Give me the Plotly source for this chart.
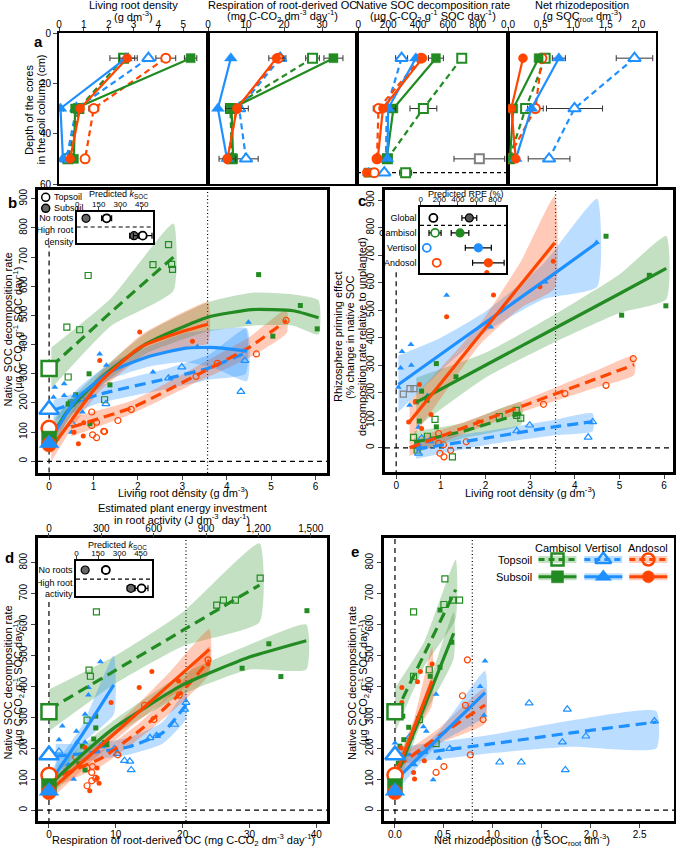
import plotly.graph_objects as go

# =============== DATA ===============
# ---- panel a : depth profiles (depth in cm) ----
depth = [10, 30, 50]
depth_noroots = [55.5, 55.5, 55.5, 55.5, 55.5, 55.5]
noroot_series = ["cam_top", "cam_sub", "ver_top", "ver_sub", "and_top", "and_sub"]

a_root_cam_top = [2.6, 0.8, 0.36]
a_root_cam_sub = [5.3, 0.65, 0.6]
a_root_ver_top = [3.6, 0.7, 0.3]
a_root_ver_sub = [2.7, 0.06, 0.16]
a_root_and_top = [4.3, 1.4, 1.05]
a_root_and_sub = [2.75, 0.85, 0.45]
a_root_err = {"cam_top": [0.55, 0, 0], "cam_sub": [0.25, 0, 0], "and_top": [0.4, 0.2, 0],
              "and_sub": [0.3, 0, 0], "ver_sub": [0, 0.12, 0]}

a_resp_cam_top = [27.5, 5.9, 6.3]
a_resp_cam_sub = [33.0, 6.2, 6.6]
a_resp_ver_top = [19.0, 8.2, 10.0]
a_resp_ver_sub = [6.0, 2.6, 5.0]
a_resp_and_top = [18.5, 7.5, 5.2]
a_resp_and_sub = [18.0, 7.6, 5.1]
a_resp_err = {"cam_top": [1.8, 0, 0], "cam_sub": [2.5, 0, 0], "ver_top": [1.5, 0, 3.2],
              "and_sub": [2.0, 3.0, 2.2]}

a_soc_cam_top = [693, 436, 195]
a_soc_cam_sub = [520, 235, 190]
a_soc_ver_top = [290, 190, 185]
a_soc_ver_sub = [385, 200, 195]
a_soc_and_top = [420, 135, 125]
a_soc_and_sub = [430, 165, 130]
a_soc_err = {"cam_top": [0, 90, 0], "cam_sub": [50, 0, 0], "ver_top": [40, 0, 0],
             "and_top": [0, 35, 0], "ver_sub": [0, 50, 0]}
a_soc_noroots = [317, 67, 174, 70, 107, 56]
a_soc_noroots_err = [40, 0, 0, 0, 0, 0]
a_soc_other = [811]
a_soc_other_depth = [50]
a_soc_other_err = [170]

a_rhizo_cam_top = [0.57, 0.27, 0.02]
a_rhizo_cam_sub = [0.47, 0.08, 0.03]
a_rhizo_ver_top = [1.94, 1.02, 0.63]
a_rhizo_ver_sub = [0.78, 0.36, 0.12]
a_rhizo_and_top = [0.52, 0.42, 0.0]
a_rhizo_and_sub = [0.23, 0.05, 0.12]
a_rhizo_err = {"ver_top": [0.28, 0.43, 0.32], "ver_sub": [0.1, 0, 0], "and_sub": [0.04, 0, 0],
               "and_top": [0, 0.12, 0]}

# ---- no-roots intercepts (x = 0) ----
intercepts = {"cam_top": 318, "ver_top": 178, "and_top": 113,
              "cam_sub": 78, "ver_sub": 62, "and_sub": 58}

# ---- panel b : living root density vs native SOC decomposition ----
b_cam_top_x = [0.88, 0.40, 0.69, 0.43, 1.25, 2.34, 2.69, 2.76, 2.78, 0.50]
b_cam_top_y = [637, 460, 451, 289, 211, 674, 743, 675, 658, 200]
b_cam_sub_x = [0.90, 1.37, 0.43, 0.60, 0.92, 4.72, 5.66, 5.04, 6.04]
b_cam_sub_y = [300, 262, 197, 228, 129, 640, 534, 429, 454]
b_ver_top_x = [0.50, 0.73, 1.28, 2.69, 2.99, 4.41, 4.32, 0.52]
b_ver_top_y = [197, 214, 197, 285, 323, 345, 239, 128]
b_ver_sub_x = [0.13, 0.34, 0.10, 0.34, 0.58, 1.14, 1.29, 2.34, 3.34, 4.49, 0.75, 0.50]
b_ver_sub_y = [254, 266, 220, 226, 226, 368, 329, 306, 394, 477, 169, 100]
b_and_top_x = [0.96, 0.96, 1.07, 1.55, 1.85, 3.31, 3.79, 4.67, 5.34, 1.25, 0.98, 1.07, 1.23]
b_and_top_y = [169, 123, 134, 140, 178, 291, 336, 368, 483, 102, 91, 81, 103]
b_and_sub_x = [1.14, 2.04, 3.23, 0.54, 0.78, 0.56, 0.66, 0.77]
b_and_sub_y = [346, 443, 412, 197, 132, 100, 60, 87]

b_fit_cam_top = dict(x=[0.05, 1.4, 2.8], y=[325, 512, 700], lo=[250, 465, 585], hi=[390, 560, 815])
b_fit_cam_sub = dict(x=[0, 0.4, 1.14, 2.19, 3.57, 4.57, 5.5, 6.07], y=[70, 169, 283, 403, 494, 520, 516, 492],
                     lo=[20, 135, 255, 370, 445, 465, 465, 435], hi=[120, 200, 310, 440, 545, 578, 572, 552])
b_fit_ver_top = dict(x=[0.1, 1.14, 2.7, 3.6, 4.43], y=[175, 230, 285, 320, 372],
                     lo=[140, 200, 250, 280, 300], hi=[210, 260, 320, 365, 455])
b_fit_ver_sub = dict(x=[0, 0.62, 1.37, 2.26, 3.08, 3.75, 4.46], y=[65, 214, 306, 360, 388, 390, 378],
                     lo=[25, 185, 280, 325, 340, 318, 275], hi=[105, 245, 335, 395, 440, 452, 455])
b_fit_and_top = dict(x=[0.5, 1.9, 3.38, 4.5, 5.35], y=[117, 186, 300, 390, 483],
                     lo=[85, 165, 275, 355, 440], hi=[150, 210, 330, 425, 520])
b_fit_and_sub = dict(x=[0.05, 0.5, 1.14, 2.04, 3.0, 3.58], y=[45, 140, 270, 390, 445, 470],
                     lo=[0, 110, 240, 350, 390, 405], hi=[90, 170, 300, 430, 510, 545])

# ---- panel c : living root density vs rhizosphere priming effect ----
c_cam_top_x = [0.87, 2.31, 2.69, 2.79, 2.70, 0.39, 0.70, 1.26, 0.47]
c_cam_top_y = [103, 113, 136, 108, 118, 38, 42, -33, -8]
c_cam_sub_x = [0.90, 1.34, 0.57, 0.45, 0.69, 0.52, 0.90, 4.70, 5.05, 5.67, 6.04]
c_cam_sub_y = [306, 258, 206, 167, 173, 97, 76, 769, 482, 627, 516]
c_ver_top_x = [2.70, 2.99, 4.40, 4.30, 0.50, 0.57, 0.75, 0.48]
c_ver_top_y = [61, 82, 94, 38, -20, 35, 25, 12]
c_ver_sub_x = [0.13, 0.10, 0.33, 0.34, 0.05, 0.30, 0.50, 0.70, 1.13, 2.12, 3.34, 4.49]
c_ver_sub_y = [350, 290, 375, 300, 220, 155, 75, 190, 554, 439, 603, 746]
c_and_top_x = [3.30, 3.78, 4.70, 5.31, 1.86, 0.95, 0.95, 1.06, 0.98, 1.07, 1.22, 1.57]
c_and_top_y = [158, 197, 227, 324, 90, 52, 16, 11, -20, -33, -9, 22]
c_and_sub_x = [1.13, 2.03, 2.18, 3.22, 3.52, 0.52, 0.43, 0.78, 0.57, 0.28]
c_and_sub_y = [476, 637, 555, 585, 678, 230, 167, 121, 70, 94]
c_other_x = [0.16, 0.31, 0.40]
c_other_y = [195, 215, 215]

c_fit_cam_top = dict(x=[0.4, 1.5, 2.8], y=[20, 60, 125], lo=[-15, 35, 85], hi=[60, 90, 165])
c_fit_cam_sub = dict(x=[0.45, 2, 3.5, 5, 6.05], y=[165, 300, 430, 560, 652],
                     lo=[75, 255, 380, 490, 540], hi=[255, 345, 480, 630, 770])
c_fit_ver_top = dict(x=[0.45, 2.0, 3.5, 4.4], y=[-5, 35, 75, 95], lo=[-40, 10, 45, 60], hi=[30, 60, 100, 125])
c_fit_ver_sub = dict(x=[0.05, 1.0, 2.0, 3.3, 4.5], y=[230, 340, 455, 605, 745],
                     lo=[130, 280, 420, 540, 585], hi=[335, 400, 495, 670, 905])
c_fit_and_top = dict(x=[0.3, 1.5, 3.0, 4.5, 5.33], y=[0, 72, 162, 252, 302],
                     lo=[-30, 50, 140, 220, 265], hi=[30, 92, 182, 282, 335])
c_fit_and_sub = dict(x=[0.3, 1.0, 1.9, 2.8, 3.55], y=[95, 235, 415, 595, 745],
                     lo=[20, 180, 380, 510, 580], hi=[170, 290, 455, 680, 915])

# ---- panel d : respiration of root-derived OC vs native SOC decomposition ----
d_cam_top_x = [7.1, 6.0, 6.2, 5.7, 25.1, 26.1, 27.9, 8.5, 31.6]
d_cam_top_y = [641, 453, 433, 291, 663, 679, 679, 215, 750]
d_cam_sub_x = [7.0, 7.0, 6.7, 5.0, 4.5, 5.4, 8.5, 28.9, 32.9, 34.7, 38.6]
d_cam_sub_y = [304, 266, 230, 207, 149, 130, 214, 459, 538, 432, 645]
d_ver_top_x = [1.5, 9.8, 10.2, 11.3, 12.1, 12.3, 15.1, 16.1, 20.3, 20.5, 18.8, 7.8]
d_ver_top_y = [190, 198, 183, 160, 158, 130, 234, 241, 326, 348, 277, 208]
d_ver_sub_x = [5.9, 5.9, 7.7, 5.4, 4.1, 4.2, 1.5, 2.0, 0.75, 5.4, 3.7, 2.9]
d_ver_sub_y = [397, 372, 480, 310, 255, 220, 228, 272, 174, 220, 100, 147]
d_and_top_x = [4.0, 5.7, 6.5, 6.4, 6.4, 5.7, 7.0, 10.3, 14.3, 15.7, 19.5, 23.8]
d_and_top_y = [172, 136, 141, 122, 95, 79, 103, 179, 339, 293, 372, 486]
d_and_sub_x = [15.4, 13.5, 9.3, 5.4, 6.1, 7.5, 7.2, 7.2, 23.8, 19.4]
d_and_sub_y = [448, 397, 348, 203, 63, 87, 103, 136, 473, 418]

d_fit_cam_top = dict(x=[0, 10, 20, 31.5], y=[325, 453, 581, 728], lo=[255, 410, 530, 608], hi=[390, 500, 640, 863])
d_fit_cam_sub = dict(x=[0, 5, 10, 20, 30, 38.5], y=[80, 180, 270, 405, 495, 548],
                     lo=[40, 150, 245, 375, 455, 455], hi=[120, 210, 295, 440, 535, 600])
d_fit_ver_top = dict(x=[1, 6, 12, 17, 20.5], y=[175, 185, 205, 250, 340],
                     lo=[140, 160, 180, 215, 295], hi=[215, 215, 235, 285, 385])
d_fit_ver_sub = dict(x=[0, 5, 9.7], y=[85, 245, 405], lo=[50, 215, 310], hi=[120, 275, 500])
d_fit_and_top = dict(x=[2, 8, 14, 20, 24], y=[115, 170, 265, 385, 485],
                     lo=[85, 145, 240, 350, 440], hi=[145, 195, 290, 420, 530])
d_fit_and_sub = dict(x=[0, 6, 12, 18, 24], y=[60, 175, 290, 405, 520],
                     lo=[30, 150, 265, 365, 455], hi=[95, 200, 315, 445, 585])

# ---- panel e : net rhizodeposition vs native SOC decomposition ----
e_cam_top_x = [0.19, 0.19, 0.35, 0.25, 0.42, 0.50, 0.59, 0.66, 0.51]
e_cam_top_y = [433, 641, 454, 293, 215, 665, 679, 679, 748]
e_cam_sub_x = [0.46, 0.08, 0.14, 0.09, 0.05, 0.034, 0.46, 0.58, 0.36]
e_cam_sub_y = [647, 304, 268, 228, 207, 152, 462, 543, 433]
e_ver_top_x = [1.37, 1.76, 1.07, 1.29, 1.74, 1.71, 1.95, 2.65, 0.15, 0.56]
e_ver_top_y = [346, 326, 155, 155, 130, 220, 239, 288, 237, 199]
e_ver_sub_x = [0.0, 0.29, 0.32, 0.42, 0.45, 0.39, 0.20, 0.92, 0.87, 0.91]
e_ver_sub_y = [217, 270, 255, 375, 168, 98, 147, 482, 400, 307]
e_and_top_x = [0.69, 0.72, 0.74, 0.42, 0.50, 0.77, 0.90]
e_and_top_y = [370, 339, 486, 122, 141, 179, 293]
e_and_sub_x = [0.07, 0.07, 0.26, 0.23, 0.38, 0.30, 0.19, 0.20, 0.06]
e_and_sub_y = [348, 397, 448, 415, 473, 160, 122, 101, 201]

e_fit_cam_top = dict(x=[0, 0.3, 0.62], y=[310, 505, 713], lo=[250, 465, 620], hi=[395, 545, 810])
e_fit_cam_sub = dict(x=[0.05, 0.3, 0.6], y=[138, 335, 572], lo=[100, 305, 490], hi=[180, 365, 640])
e_fit_ver_top = dict(x=[0.05, 1.0, 1.8, 2.67], y=[176, 215, 250, 285], lo=[150, 185, 205, 200], hi=[205, 245, 290, 320])
e_fit_ver_sub = dict(x=[0, 0.45, 0.92], y=[95, 235, 380], lo=[55, 215, 305], hi=[135, 255, 450])
e_fit_and_top = dict(x=[0.02, 0.45, 0.92], y=[140, 240, 340], lo=[110, 215, 280], hi=[170, 265, 395])
e_fit_and_sub = dict(x=[0.03, 0.2, 0.38], y=[134, 272, 418], lo=[100, 245, 340], hi=[165, 300, 530])

# ---- insets ----
ins_b_rows = ["High root<br>density", "No roots"]
ins_b_top = [457, 205]
ins_b_top_err = [65, 35]
ins_b_sub = [396, 61]
ins_b_sub_err = [30, 0]

ins_d_rows = ["High root<br>activity", "No roots"]
ins_d_top = [455, 205]
ins_d_top_err = [45, 25]
ins_d_sub = [380, 60]
ins_d_sub_err = [25, 0]

ins_c_rows = ["Andosol", "Vertisol", "Cambisol", "Global"]
ins_c_top = [172, 65, 154, 136]
ins_c_top_err = [0, 0, 65, 0]
ins_c_sub = [728, 620, 423, 523]
ins_c_sub_err = [170, 140, 95, 80]

# =============== STYLE ===============
W, H = 676, 847
FONT = "Arial, Liberation Sans, sans-serif"
GREEN = "rgb(34,139,34)"
BLUE = "rgb(30,144,255)"
ORANGE = "rgb(255,69,0)"
BAND = {GREEN: "rgba(34,139,34,0.27)", BLUE: "rgba(30,144,255,0.30)", ORANGE: "rgba(255,69,0,0.28)"}
COL = {"cam": GREEN, "ver": BLUE, "and": ORANGE}
SYM = {"cam": "square", "ver": "triangle-up", "and": "circle"}
DASH_FIT = "11px,6px"


def PX(p):
    return p / W


def PY(p):
    return 1 - p / H


def xr(n):
    return "x" if n == 1 else f"x{n}"


def yr(n):
    return "y" if n == 1 else f"y{n}"


def xa(n):
    return "xaxis" if n == 1 else f"xaxis{n}"


def ya(n):
    return "yaxis" if n == 1 else f"yaxis{n}"


def big_marker(soil, layer, size, lw):
    c = COL[soil]
    s = size + (2 if soil == "ver" else 0)
    if layer == "top":
        return dict(symbol=SYM[soil], size=s, color="white", line=dict(color=c, width=lw))
    return dict(symbol=SYM[soil], size=s, color=c, line=dict(color=c, width=0.5))


def small_marker(soil, layer):
    c = COL[soil]
    s = 6 + (1 if soil == "ver" else 0)
    if layer == "top":
        return dict(symbol=SYM[soil] + "-open", size=s, color=c, line=dict(color=c, width=1.2))
    return dict(symbol=SYM[soil], size=s - 1, color=c, line=dict(width=0))


fig = go.Figure()
layout = {}
shapes = []
annotations = []


def ann(text, x, y, size=11, angle=0, xanchor="center", yanchor="middle"):
    # text placed in pixel space through the full-page overlay axes (x13 / y13)
    annotations.append(dict(text=text, x=x, y=y, xref="x13", yref="y13", showarrow=False,
                            textangle=angle, xanchor=xanchor, yanchor=yanchor, font=dict(size=size)))


SERIES = ["cam_top", "ver_top", "and_top", "cam_sub", "ver_sub", "and_sub"]

# =============== PANEL a ===============
a_data = {
    1: ({"cam_top": a_root_cam_top, "cam_sub": a_root_cam_sub, "ver_top": a_root_ver_top,
         "ver_sub": a_root_ver_sub, "and_top": a_root_and_top, "and_sub": a_root_and_sub}, a_root_err),
    2: ({"cam_top": a_resp_cam_top, "cam_sub": a_resp_cam_sub, "ver_top": a_resp_ver_top,
         "ver_sub": a_resp_ver_sub, "and_top": a_resp_and_top, "and_sub": a_resp_and_sub}, a_resp_err),
    3: ({"cam_top": a_soc_cam_top, "cam_sub": a_soc_cam_sub, "ver_top": a_soc_ver_top,
         "ver_sub": a_soc_ver_sub, "and_top": a_soc_and_top, "and_sub": a_soc_and_sub}, a_soc_err),
    4: ({"cam_top": a_rhizo_cam_top, "cam_sub": a_rhizo_cam_sub, "ver_top": a_rhizo_ver_top,
         "ver_sub": a_rhizo_ver_sub, "and_top": a_rhizo_and_top, "and_sub": a_rhizo_and_sub}, a_rhizo_err),
}
a_xdom = {1: (59, 208), 2: (208, 357), 3: (357, 508), 4: (508, 656)}
a_xrange = {1: [0, 6.0], 2: [0, 39.2], 3: [-9, 1003], 4: [0, 2.27]}
a_xticks = {1: ([0, 1, 2, 3, 4, 5], None), 2: ([0, 10, 20, 30], None),
            3: ([0, 200, 400, 600, 800], None),
            4: ([0, 0.5, 1.0, 1.5, 2.0], ["0.0", "0.5", "1.0", "1.5", "2.0"])}
a_titles = {1: ("Living root density", "(g dm<sup>-3</sup>)"),
            2: ("Respiration of root-derived OC", "(mg C-CO<sub>2</sub> dm<sup>-3</sup> day<sup>-1</sup>)"),
            3: ("Native SOC decomposition rate", "(µg C-CO<sub>2</sub> g<sup>-1</sup> SOC day<sup>-1</sup>)"),
            4: ("Net rhizodeposition", "(g SOC<sub>root</sub> dm<sup>-3</sup>)")}

for n in range(1, 5):
    vals, errs = a_data[n]
    if n == 3:
        fig.add_trace(go.Scatter(x=a_soc_other, y=a_soc_other_depth, mode="markers",
                                 marker=dict(symbol="square", size=9, color="white", line=dict(color="grey", width=2)),
                                 error_x=dict(type="data", array=a_soc_other_err, color="#333", thickness=1, width=3),
                                 xaxis=xr(n), yaxis=yr(n), showlegend=False, hoverinfo="skip"))
        for i, key in enumerate(noroot_series):
            soil, layer = key.split("_")
            fig.add_trace(go.Scatter(x=[a_soc_noroots[i]], y=[depth_noroots[i]], mode="markers",
                                     marker=big_marker(soil, layer, 9, 2),
                                     error_x=dict(type="data", array=[a_soc_noroots_err[i]], color="#333", thickness=1, width=3),
                                     xaxis=xr(n), yaxis=yr(n), showlegend=False, hoverinfo="skip"))
    for key in SERIES:
        soil, layer = key.split("_")
        fig.add_trace(go.Scatter(
            x=vals[key], y=depth, mode="lines+markers",
            line=dict(color=COL[soil], width=2.2, dash="6px,4px" if layer == "top" else "solid"),
            marker=big_marker(soil, layer, 9, 2),
            error_x=dict(type="data", array=errs.get(key, [0, 0, 0]), color="#333", thickness=1, width=3),
            xaxis=xr(n), yaxis=yr(n), showlegend=False, hoverinfo="skip"))
    tv, tt = a_xticks[n]
    xd = dict(domain=[PX(a_xdom[n][0]), PX(a_xdom[n][1])], range=a_xrange[n], anchor=yr(n), side="top",
              tickvals=tv, showline=True, mirror=True, linewidth=2, linecolor="black",
              ticks="outside", ticklen=4, tickwidth=1, showgrid=False, zeroline=False,
              ticklabelstandoff=-5, tickfont=dict(size=10, color="black"))
    if tt:
        xd["ticktext"] = tt
    layout[xa(n)] = xd
    layout[ya(n)] = dict(domain=[PY(184), PY(33)], range=[60, 0], anchor=xr(n),
                         tickvals=[0, 20, 40, 60], showline=True, mirror=True, linewidth=2, linecolor="black",
                         ticks="outside" if n == 1 else "", ticklen=4, showticklabels=(n == 1),
                         showgrid=False, zeroline=False, tickfont=dict(size=10, color="black"))
    cx = (a_xdom[n][0] + a_xdom[n][1]) / 2
    ann(a_titles[n][0], cx, 5)
    ann(a_titles[n][1], cx, 15.5)

shapes.append(dict(type="line", xref="x3 domain", yref="y3", x0=0, x1=1, y0=55.5, y1=55.5,
                   line=dict(color="black", width=1.2, dash="4px,3px"), layer="below"))
ann("<b>a</b>", 38, 41, size=15)
ann("Depth of the cores", 29, 110, angle=-90)
ann("in the soil column (cm)", 40.5, 110, angle=-90)

# =============== PANELS b-e ===============
def draw_panel(n, pts, fits, with_intercepts):
    for key in SERIES:
        soil, layer = key.split("_")
        f = fits[key]
        fig.add_trace(go.Scatter(x=f["x"] + f["x"][::-1], y=f["hi"] + f["lo"][::-1], mode="lines",
                                 fill="toself", fillcolor=BAND[COL[soil]], line=dict(width=0, shape="spline", smoothing=0.5),
                                 xaxis=xr(n), yaxis=yr(n), showlegend=False, hoverinfo="skip"))
    for key in SERIES:
        soil, layer = key.split("_")
        px_, py_ = pts[key]
        fig.add_trace(go.Scatter(x=px_, y=py_, mode="markers", marker=small_marker(soil, layer),
                                 xaxis=xr(n), yaxis=yr(n), showlegend=False, hoverinfo="skip"))
    for key in SERIES:
        soil, layer = key.split("_")
        f = fits[key]
        fig.add_trace(go.Scatter(x=f["x"], y=f["y"], mode="lines",
                                 line=dict(color=COL[soil], width=3.2, shape="spline", smoothing=0.5,
                                           dash=DASH_FIT if layer == "top" else "solid"),
                                 xaxis=xr(n), yaxis=yr(n), showlegend=False, hoverinfo="skip"))
    if with_intercepts:
        for key in ["cam_top", "ver_top", "and_top", "cam_sub", "and_sub", "ver_sub"]:
            soil, layer = key.split("_")
            fig.add_trace(go.Scatter(x=[0], y=[intercepts[key]], mode="markers",
                                     marker=big_marker(soil, layer, 15, 2.5),
                                     xaxis=xr(n), yaxis=yr(n), showlegend=False, hoverinfo="skip"))


def main_axes(n, xpx, ypx, xrange, yrange, xt, yt, xtt=None):
    xd = dict(domain=[PX(xpx[0]), PX(xpx[1])], range=xrange, anchor=yr(n), tickvals=xt,
              showline=True, mirror=True, linewidth=2.5, linecolor="black", ticks="outside",
              ticklen=4, tickwidth=1, showgrid=False, zeroline=False, ticklabelstandoff=-2,
              tickfont=dict(size=10, color="black"))
    if xtt:
        xd["ticktext"] = xtt
    layout[xa(n)] = xd
    layout[ya(n)] = dict(domain=[PY(ypx[1]), PY(ypx[0])], range=yrange, anchor=xr(n), tickvals=yt,
                         tickangle=-90, showline=True, mirror=True, linewidth=2.5, linecolor="black",
                         ticks="outside", ticklen=4, tickwidth=1, showgrid=False, zeroline=False,
                         tickfont=dict(size=10, color="black"))


def pts_of(prefix):
    g = globals()
    return {k: (g[f"{prefix}_{k}_x"], g[f"{prefix}_{k}_y"]) for k in SERIES}


def fits_of(prefix):
    g = globals()
    return {k: g[f"{prefix}_fit_{k}"] for k in SERIES}


def ref_lines(n, x0_top, dotted_x):
    shapes.append(dict(type="line", xref=f"{xr(n)} domain", yref=yr(n), x0=0, x1=1, y0=0, y1=0,
                       line=dict(color="black", width=1.2, dash="5px,4px"), layer="below"))
    shapes.append(dict(type="line", xref=xr(n), yref=yr(n), x0=0, x1=0, y0=-100, y1=x0_top,
                       line=dict(color="black", width=1.2, dash="5px,4px"), layer="below"))
    shapes.append(dict(type="line", xref=xr(n), yref=f"{yr(n)} domain", x0=dotted_x, x1=dotted_x, y0=0, y1=1,
                       line=dict(color="black", width=1.2, dash="1px,2.5px"), layer="below"))


# panel b
ref_lines(5, 740, 3.57)
draw_panel(5, pts_of("b"), fits_of("b"), True)
main_axes(5, (38, 327), (190, 473), [-0.25, 6.26], [-40, 930], [0, 1, 2, 3, 4, 5, 6], list(range(0, 1000, 100)))

# panel c
ref_lines(7, 650, 3.57)
draw_panel(7, pts_of("c"), fits_of("c"), False)
fig.add_trace(go.Scatter(x=c_other_x, y=c_other_y, mode="markers",
                         marker=dict(symbol="square-open", size=6, color="grey", line=dict(color="grey", width=1.2)),
                         xaxis="x7", yaxis="y7", showlegend=False, hoverinfo="skip"))
main_axes(7, (385, 673), (190, 472), [-0.25, 6.2], [-88, 937], [0, 1, 2, 3, 4, 5, 6], list(range(0, 1000, 100)))

# panel d
ref_lines(9, 680, 20.5)
draw_panel(9, pts_of("d"), fits_of("d"), True)
main_axes(9, (38, 327), (538, 821), [-1.64, 41.6], [-35, 880], [0, 10, 20, 30, 40], list(range(0, 900, 100)))
fig.add_trace(go.Scatter(x=[None], y=[None], xaxis="x10", yaxis="y9", showlegend=False, hoverinfo="skip"))
layout["xaxis10"] = dict(overlaying="x9", side="top", anchor="y9", range=[-62.8, 1593],
                         tickvals=[0, 300, 600, 900, 1200, 1500],
                         ticktext=["0", "300", "600", "900", "1,200", "1,500"],
                         ticks="outside", ticklen=4, tickwidth=1, showline=False, showgrid=False, zeroline=False,
                         ticklabelstandoff=-3, tickfont=dict(size=10, color="black"))

# panel e
ref_lines(12, 900, 0.79)
draw_panel(12, pts_of("e"), fits_of("e"), True)
main_axes(12, (384, 674), (538, 821), [-0.112, 2.85], [-35, 880], [0, 0.5, 1.0, 1.5, 2.0, 2.5],
          list(range(0, 900, 100)), ["0.0", "0.5", "1.0", "1.5", "2.0", "2.5"])

# =============== INSETS ===============
def inset(n, xpx, ypx, xrange, yrange, rows, top, top_err, sub, sub_err, tick_vals, row_cols=None, sub_cols=None, dash_y=0.5):
    k = len(rows)
    tcols = row_cols or ["black"] * k
    scols = sub_cols or ["#666"] * k
    fig.add_trace(go.Scatter(x=sub, y=rows, mode="markers",
                             marker=dict(symbol="circle", size=8, color=scols, line=dict(color=tcols, width=1.2)),
                             error_x=dict(type="data", array=sub_err, color="black", thickness=1.2, width=3),
                             xaxis=xr(n), yaxis=yr(n), showlegend=False, hoverinfo="skip"))
    fig.add_trace(go.Scatter(x=top, y=rows, mode="markers",
                             marker=dict(symbol="circle", size=8, color="white", line=dict(color=tcols, width=1.8)),
                             error_x=dict(type="data", array=top_err, color="black", thickness=1.2, width=3),
                             xaxis=xr(n), yaxis=yr(n), showlegend=False, hoverinfo="skip"))
    layout[xa(n)] = dict(domain=[PX(xpx[0]), PX(xpx[1])], range=xrange, anchor=yr(n), side="top",
                         tickvals=tick_vals, showline=True, mirror=True, linewidth=1.5, linecolor="black",
                         ticks="outside", ticklen=3, tickwidth=1, showgrid=False, zeroline=False,
                         ticklabelstandoff=-3, tickfont=dict(size=8, color="black"))
    layout[ya(n)] = dict(domain=[PY(ypx[1]), PY(ypx[0])], range=yrange, anchor=xr(n), type="category",
                         categoryorder="array", categoryarray=rows,
                         showline=True, mirror=True, linewidth=1.5, linecolor="black", ticks="",
                         showgrid=False, zeroline=False, tickfont=dict(size=9, color="black"))
    shapes.append(dict(type="line", xref=f"{xr(n)} domain", yref=yr(n), x0=0, x1=1, y0=dash_y, y1=dash_y,
                       line=dict(color="black", width=1.2, dash="4px,3px")))


inset(6, (76.7, 153.3), (211.7, 243.3), [-4, 531], [-0.44, 1.38], ins_b_rows, ins_b_top, ins_b_top_err,
      ins_b_sub, ins_b_sub_err, [0, 150, 300, 450])
inset(11, (76, 151.7), (561, 595.7), [-4, 526], [-0.40, 1.49], ins_d_rows, ins_d_top, ins_d_top_err,
      ins_d_sub, ins_d_sub_err, [0, 150, 300, 450])
inset(8, (420, 506), (206.7, 273.3), [-8, 918], [-0.7, 3.75], ins_c_rows, ins_c_top, ins_c_top_err,
      ins_c_sub, ins_c_sub_err, [0, 200, 400, 600, 800],
      row_cols=[ORANGE, BLUE, GREEN, "black"], sub_cols=[ORANGE, BLUE, GREEN, "#555"], dash_y=2.5)

# =============== overlay (pixel space) for legends and texts ===============
layout["xaxis13"] = dict(domain=[0, 1], range=[0, W], anchor="y13", visible=False, fixedrange=True)
layout["yaxis13"] = dict(domain=[0, 1], range=[H, 0], anchor="x13", visible=False, fixedrange=True)

# b legend (Topsoil / Subsoil)
fig.add_trace(go.Scatter(x=[45.7, 45.7], y=[197.3, 208.3], mode="markers",
                         marker=dict(symbol="circle", size=8, color=["white", "#666"], line=dict(color="black", width=1.5)),
                         xaxis="x13", yaxis="y13", showlegend=False, hoverinfo="skip"))
ann("Topsoil", 51.5, 197.3, size=9, xanchor="left")
ann("Subsoil", 51.5, 208.3, size=9, xanchor="left")

# e legend
leg_cols = [("Cambisol", "cam", 557.5), ("Vertisol", "ver", 603.3), ("Andosol", "and", 648.3)]
leg_rows = [("Topsoil", "top", 559.5), ("Subsoil", "sub", 576.8)]
for name, soil, cx in leg_cols:
    ann(name, cx, 548)
    for rname, layer, cy in leg_rows:
        c = COL[soil]
        shapes.append(dict(type="rect", xref="x13", yref="y13", x0=cx - 19, x1=cx + 19, y0=cy - 3.5, y1=cy + 3.5,
                           fillcolor=BAND[c], line=dict(width=0)))
        shapes.append(dict(type="line", xref="x13", yref="y13", x0=cx - 19, x1=cx + 19, y0=cy, y1=cy,
                           line=dict(color=c, width=3, dash="6px,4px" if layer == "top" else "solid")))
        fig.add_trace(go.Scatter(x=[cx], y=[cy], mode="markers", marker=big_marker(soil, layer, 12, 2.5),
                                 xaxis="x13", yaxis="y13", showlegend=False, hoverinfo="skip"))
for rname, layer, cy in leg_rows:
    ann(rname, 534, cy, xanchor="right")

# =============== text ===============
ann("<b>b</b>", 12, 202, size=15)
ann("<b>c</b>", 362, 200, size=15)
ann("<b>d</b>", 9, 557, size=15)
ann("<b>e</b>", 355, 551, size=15)
# panel b
ann("Native SOC decomposition rate", 7.5, 330, angle=-90)
ann("(µg C-CO<sub>2</sub> g<sup>-1</sup> SOC day<sup>-1</sup>)", 18.5, 330, angle=-90)
ann("Living root density (g dm<sup>-3</sup>)", 183, 492)
ann("Predicted <i>k</i><sub>SOC</sub>", 118, 194, size=9)
# panel c
ann("Rhizosphere priming effect", 338, 337, angle=-90)
ann("(% change in native SOC", 350, 337, angle=-90)
ann("decomposition rate relative to unplanted)", 362, 337, angle=-90)
ann("Living root density (g dm<sup>-3</sup>)", 530, 492)
ann("Predicted RPE (%)", 466, 194, size=9)
# panel d
ann("Estimated plant energy investment", 182, 507.5)
ann("in root activity (J dm<sup>-3</sup> day<sup>-1</sup>)", 182, 519)
ann("Native SOC decomposition rate", 7.5, 683, angle=-90)
ann("(µg C-CO<sub>2</sub> g<sup>-1</sup> SOC day<sup>-1</sup>)", 18.5, 683, angle=-90)
ann("Respiration of root-derived OC (mg C-CO<sub>2</sub> dm<sup>-3</sup> day<sup>-1</sup>)", 183, 839.5)
ann("Predicted <i>k</i><sub>SOC</sub>", 117, 545, size=9)
# panel e
ann("Native SOC decomposition rate", 352, 683, angle=-90)
ann("(µg C-CO<sub>2</sub> g<sup>-1</sup> SOC day<sup>-1</sup>)", 363.5, 683, angle=-90)
ann("Net rhizodeposition (g SOC<sub>root</sub> dm<sup>-3</sup>)", 522, 839.5)

fig.update_layout(**layout)
fig.update_layout(width=W, height=H, autosize=False, margin=dict(l=0, r=0, t=0, b=0, autoexpand=False),
                  paper_bgcolor="white", plot_bgcolor="rgba(0,0,0,0)",
                  font=dict(family=FONT, size=11, color="black"),
                  showlegend=False, shapes=shapes, annotations=annotations)
fig.write_html("out.html", config={"displayModeBar": False},
               post_script="document.body.style.margin='0';document.body.style.padding='0';"
                           "document.body.style.overflow='hidden';")
